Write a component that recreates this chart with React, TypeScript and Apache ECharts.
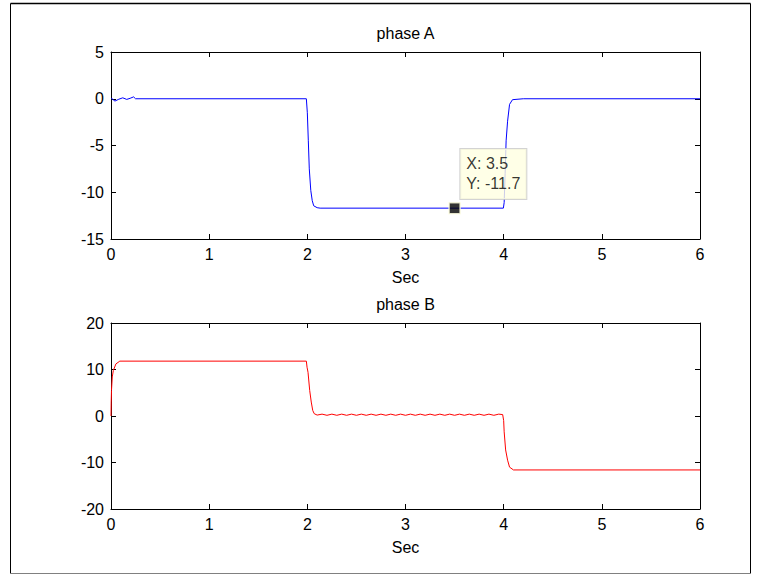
import React, { useEffect, useRef } from "react";
import * as echarts from "echarts";

// Phase A current (time in s, value)
const phaseA: [number, number][] = [
  [0, 0], [0.007, 0.03], [0.04, -0.25], [0.08, -0.05], [0.12, 0.1], [0.16, -0.07],
  [0.195, 0.05], [0.23, 0.2], [0.25, 0], [1.99, 0], [2.0, -1.5], [2.01, -4.5],
  [2.02, -7.5], [2.035, -9.8], [2.05, -10.9], [2.065, -11.45], [2.1, -11.65],
  [2.13, -11.7], [3.997, -11.7], [4.005, -11.1], [4.015, -8], [4.025, -4.5],
  [4.04, -2.4], [4.06, -0.6], [4.09, -0.1], [4.2, 0], [6, 0],
];

// Phase B current (time in s, value)
const phaseB: [number, number][] = [
  [0, 0], [0.002, 3], [0.005, 5.5], [0.013, 8.4], [0.024, 9.8], [0.05, 11.2],
  [0.09, 11.8], [1.99, 11.8], [1.997, 10.5], [2.007, 9.4], [2.024, 5.5],
  [2.04, 3.0], [2.055, 1.2], [2.07, 0.5], [2.1, 0.2],
  [2.15, 0.4], [2.2, 0.15], [2.25, 0.4], [2.3, 0.15], [2.35, 0.4], [2.4, 0.15],
  [2.45, 0.4], [2.5, 0.15], [2.55, 0.4], [2.6, 0.15], [2.65, 0.4], [2.7, 0.15],
  [2.75, 0.4], [2.8, 0.15], [2.85, 0.4], [2.9, 0.15], [2.95, 0.4], [3.0, 0.15],
  [3.05, 0.4], [3.1, 0.15], [3.15, 0.4], [3.2, 0.15], [3.25, 0.4], [3.3, 0.15],
  [3.35, 0.4], [3.4, 0.15], [3.45, 0.4], [3.5, 0.15], [3.55, 0.4], [3.6, 0.15],
  [3.65, 0.4], [3.7, 0.15], [3.75, 0.4], [3.8, 0.15], [3.85, 0.4], [3.9, 0.15],
  [3.95, 0.4], [3.99, 0.3], [4.0, -1], [4.005, -3.4], [4.02, -7.3], [4.04, -9.5],
  [4.06, -11.0], [4.1, -11.6], [6, -11.6],
];

// Data cursor on phase A
const cursorPoint: [number, number] = [3.5, -11.7];

const timeTicks = { min: 0, max: 6, interval: 1 };
const phaseATicks = { min: -15, max: 5, interval: 5 };
const phaseBTicks = { min: -20, max: 20, interval: 10 };

const FONT = "Liberation Sans, Arial, sans-serif";
const FS = 16;

function axisBase(show: boolean) {
  return {
    axisLine: { show: true, onZero: false, lineStyle: { color: "#000", width: 1 } },
    axisTick: { show: true, inside: true, length: 5, lineStyle: { color: "#000" } },
    axisLabel: {
      show,
      color: "#000",
      fontSize: FS,
      fontFamily: FONT,
      margin: 7,
    },
    splitLine: { show: false },
  };
}

export default function App() {
  const ref = useRef<HTMLDivElement>(null);

  useEffect(() => {
    if (!ref.current) return;
    const chart = echarts.init(ref.current, undefined, { renderer: "svg" });

    const nameStyle = { color: "#000", fontSize: FS, fontFamily: FONT };

    const xAxes: any[] = [];
    const yAxes: any[] = [];
    const titles = ["phase A", "phase B"];
    const yTicks = [phaseATicks, phaseBTicks];
    [0, 1].forEach((g) => {
      xAxes.push({
        type: "value", gridIndex: g, position: "bottom", ...timeTicks,
        ...axisBase(true),
        name: "Sec", nameLocation: "middle", nameGap: 30, nameTextStyle: nameStyle,
      });
      xAxes.push({
        type: "value", gridIndex: g, position: "top", ...timeTicks,
        ...axisBase(false),
        name: titles[g], nameLocation: "middle", nameGap: 11, nameTextStyle: nameStyle,
      });
      yAxes.push({
        type: "value", gridIndex: g, position: "left", ...yTicks[g],
        ...axisBase(true),
      });
      yAxes.push({
        type: "value", gridIndex: g, position: "right", ...yTicks[g],
        ...axisBase(false),
      });
    });

    chart.setOption({
      animation: false,
      backgroundColor: "#fff",
      textStyle: { fontFamily: FONT },
      grid: [
        { left: 111, top: 52, width: 589, height: 187 },
        { left: 111, top: 323, width: 589, height: 186 },
      ],
      xAxis: xAxes,
      yAxis: yAxes,
      series: [
        {
          type: "line", xAxisIndex: 0, yAxisIndex: 0, data: phaseA,
          showSymbol: false, lineStyle: { color: "#0000ff", width: 1 },
        },
        {
          type: "line", xAxisIndex: 2, yAxisIndex: 2, data: phaseB,
          showSymbol: false, lineStyle: { color: "#ff0000", width: 1 },
        },
        {
          type: "scatter", xAxisIndex: 0, yAxisIndex: 0, data: [cursorPoint],
          symbol: "rect", symbolSize: 11,
          itemStyle: { color: "#000", borderColor: "#ffffe1", borderWidth: 1.5 },
          label: {
            show: true,
            position: [12, -53],
            align: "left",
            verticalAlign: "top",
            formatter: (p: any) => `X: ${p.value[0]}\nY: ${p.value[1]}`,
            color: "#000",
            fontSize: FS,
            fontFamily: FONT,
            lineHeight: 20,
            backgroundColor: "#ffffe1",
            borderColor: "#c8c8c8",
            borderWidth: 1,
            padding: [5, 6, 5, 6],
            width: 54,
          },
          z: 5,
        },
      ],
      graphic: [
        { type: "line", shape: { x1: 10.5, y1: 3.5, x2: 750.5, y2: 3.5 }, style: { stroke: "#000", lineWidth: 1.5 } },
        { type: "line", shape: { x1: 10.5, y1: 3.5, x2: 10.5, y2: 573.5 }, style: { stroke: "#000", lineWidth: 1 } },
        { type: "line", shape: { x1: 750.5, y1: 3.5, x2: 750.5, y2: 573.5 }, style: { stroke: "#000", lineWidth: 1 } },
        { type: "line", shape: { x1: 10.5, y1: 573.5, x2: 750.5, y2: 573.5 }, style: { stroke: "#808080", lineWidth: 1 } },
      ],
    });

    return () => chart.dispose();
  }, []);

  return (
    <div
      ref={ref}
      style={{ position: "fixed", left: 0, top: 0, width: 761, height: 575, background: "#fff" }}
    />
  );
}
